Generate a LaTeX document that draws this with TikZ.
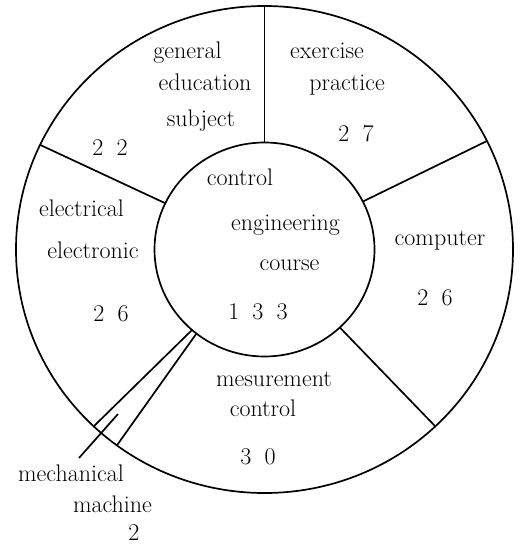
\documentclass[tikz,border=0pt]{standalone}
\usetikzlibrary{shapes.geometric}
\newcommand\dgap{\hspace{0.55em}}
\begin{document}
\begin{tikzpicture}[x=1pt,y=-1pt,
  ring/.style={draw, ellipse, line width=1.7pt, inner sep=0pt, outer sep=0pt},
  spoke/.style={line width=1.7pt},
  lbl/.style={font=\fontsize{24}{28}\selectfont, inner sep=0pt, anchor=base}]
\useasboundingbox (0,0) rectangle (522,545);

% outer ring and central circle
\node[ring, minimum width=497pt, minimum height=487pt] (outer) at (264.5,249.5) {};
\node[ring, minimum width=220pt, minimum height=214pt] (inner) at (264.5,249.5) {};

% dividers between the sectors
\draw[spoke] (inner.90)   -- (outer.90);
\draw[spoke] (inner.26.5) -- (outer.26.5);
\draw[spoke] (inner.-46)  -- (outer.-46);
\draw[spoke] (inner.155)  -- (outer.155);
\draw[spoke] (inner.-132) -- (outer.-134);
\draw[spoke] (inner.-129) -- (outer.-127);

% leader to the small mechanical sector
\coordinate (lead1) at (118,414);
\coordinate (lead2) at (79,458);
\draw[spoke] (lead1) -- (lead2);

% centre
\node[lbl] (c1) at (240,185.5) {control};
\node[lbl] (c2) at (285.5,230) {engineering};
\node[lbl] (c3) at (289.5,270.5) {course};
\node[lbl] (c4) at (258,319) {1\dgap 3\dgap 3};

% general education
\node[lbl] (g1) at (187.5,59) {general};
\node[lbl] (g2) at (205,91) {education};
\node[lbl] (g3) at (201,126.5) {subject};
\node[lbl] (g4) at (110,156) {2\dgap 2};

% exercise practice
\node[lbl] (e1) at (327,59) {exercise};
\node[lbl] (e2) at (347,91) {practice};
\node[lbl] (e3) at (356,142) {2\dgap 7};

% computer
\node[lbl] (p1) at (440,245) {computer};
\node[lbl] (p2) at (435,305) {2\dgap 6};

% measurement control
\node[lbl] (m1) at (274,386) {mesurement};
\node[lbl] (m2) at (263,416.5) {control};
\node[lbl] (m3) at (258,464) {3\dgap 0};

% electrical electronic
\node[lbl] (l1) at (81.5,216) {electrical};
\node[lbl] (l2) at (93,258.5) {electronic};
\node[lbl] (l3) at (111,321) {2\dgap 6};

% mechanical machine
\node[lbl] (k1) at (71,481) {mechanical};
\node[lbl] (k2) at (112.5,512) {machine};
\node[lbl] (k3) at (134,540) {2};
\end{tikzpicture}
\end{document}
